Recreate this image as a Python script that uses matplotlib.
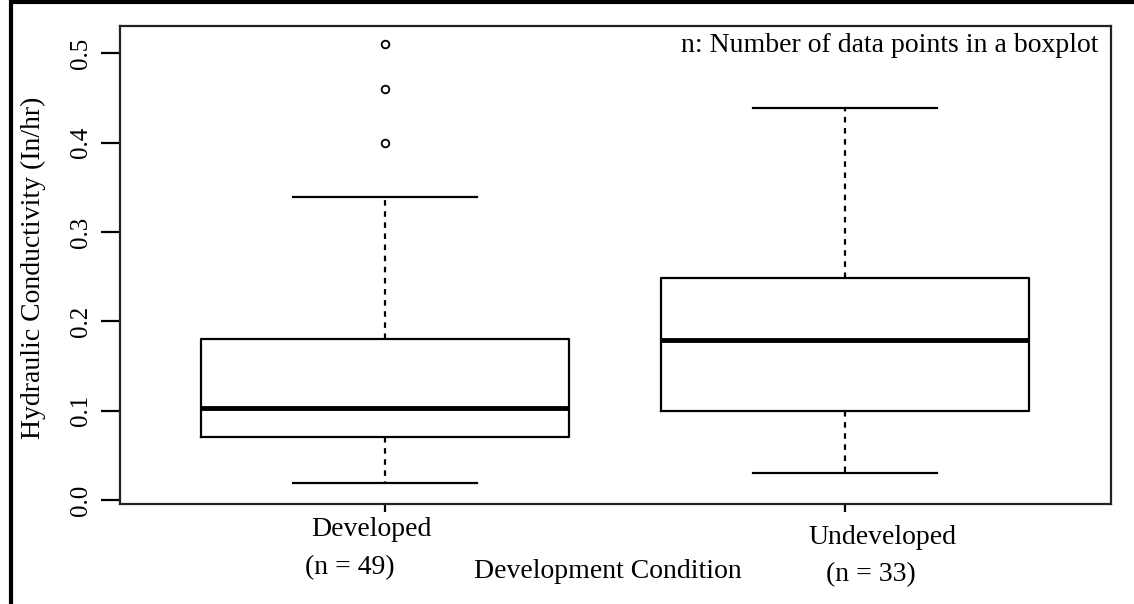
import matplotlib
matplotlib.use("Agg")
import matplotlib.pyplot as plt
from matplotlib.lines import Line2D

# ---- data ----
categories = ["Developed", "Undeveloped"]
counts = [49, 33]
whisker_low = [0.019, 0.030]
quartile1 = [0.070, 0.100]
medians = [0.103, 0.179]
quartile3 = [0.180, 0.249]
whisker_high = [0.339, 0.439]
outliers = [[0.400, 0.460, 0.511], []]
yticks = [0.0, 0.1, 0.2, 0.3, 0.4, 0.5]
ytick_labels = ["0.0", "0.1", "0.2", "0.3", "0.4", "0.5"]

W, H = 1134, 604
fig = plt.figure(figsize=(W / 100, H / 100), dpi=100)
fig.patch.set_facecolor("white")
FONT = "Liberation Serif"
FS = 20

ax = fig.add_axes([119.5 / W, 1 - 504 / H, (1111 - 119.5) / W, (504 - 26) / H])

stats = []
for i, name in enumerate(categories):
    stats.append(dict(label=name, whislo=whisker_low[i], q1=quartile1[i],
                      med=medians[i], q3=quartile3[i], whishi=whisker_high[i],
                      fliers=outliers[i]))

ax.bxp(stats, positions=[1, 2], widths=0.8, capwidths=0.4, showfliers=True,
       boxprops=dict(color="black", linewidth=1.6),
       whiskerprops=dict(color="black", linewidth=1.6, linestyle=(0, (2.5, 2.5))),
       capprops=dict(color="black", linewidth=1.6),
       medianprops=dict(color="black", linewidth=3.5, solid_capstyle="butt"),
       flierprops=dict(marker="o", markerfacecolor="white", markeredgecolor="black",
                       markersize=5.5, markeredgewidth=1.3))

ax.set_xlim(0.424, 2.578)
ax.set_ylim(-0.0045, 0.5306)

for sp in ax.spines.values():
    sp.set_linewidth(1.6)
    sp.set_color("#222222")

ax.set_yticks(yticks)
ax.set_yticklabels(ytick_labels, rotation=90, va="center", family=FONT, fontsize=18)
ax.tick_params(axis="y", direction="out", length=14, width=1.6, pad=6)
ax.set_xticks([1, 2])
ax.set_xticklabels([])
ax.tick_params(axis="x", direction="out", length=6, width=1.6)


def px(x, y, s, **kw):
    fig.text(x / W, 1 - y / H, s, family=FONT, fontsize=FS, ha="center", va="center", **kw)


px(33, 268, "Hydraulic Conductivity (In/hr)", rotation=90)
px(371, 530, categories[0])
px(350, 568, "(n = %d)" % counts[0])
px(882, 537, categories[1])
px(871, 575, "(n = %d)" % counts[1])
px(608, 572, "Development Condition")

ax.text(0.987, 0.985, "n: Number of data points in a boxplot", transform=ax.transAxes,
        ha="right", va="top", family=FONT, fontsize=FS)

# figure border (left and top)
fig.add_artist(Line2D([10.5 / W, 10.5 / W], [0, 1], transform=fig.transFigure,
                      color="black", linewidth=3, solid_capstyle="butt"))
fig.add_artist(Line2D([9 / W, 1], [1 - 2 / H, 1 - 2 / H], transform=fig.transFigure,
                      color="black", linewidth=3, solid_capstyle="butt"))

fig.savefig("out.png", dpi=100, facecolor="white")
